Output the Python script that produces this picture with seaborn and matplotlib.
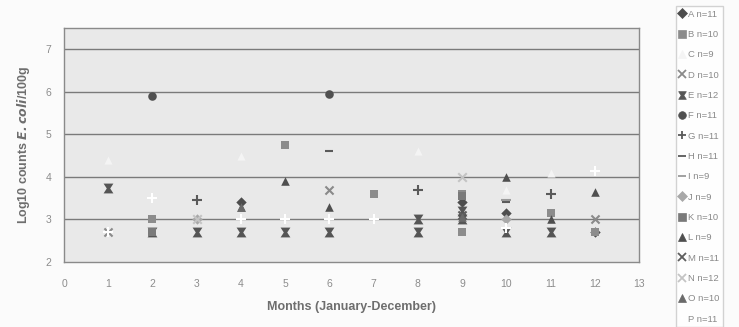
import numpy as np
import pandas as pd
import matplotlib
matplotlib.use("Agg")
import matplotlib.pyplot as plt
import seaborn as sns

# Monthly log10 E. coli counts per site (values at 2.7 / 3.0 are detection-level results)
A_month = [4, 9, 10, 12]
A_value = [3.4, 3.4, 3.15, 2.7]
B_month = [2, 5, 7, 9, 11, 12, 9]
B_value = [3.0, 4.75, 3.6, 3.6, 3.15, 2.7, 2.7]
C_month = [1, 4, 8, 11, 10]
C_value = [4.4, 4.5, 4.6, 4.1, 3.7]
D_month = [6, 12, 1]
D_value = [3.7, 3.0, 2.7]
E_month = [1, 2, 3, 4, 5, 6, 8, 8, 9, 9, 10, 11]
E_value = [3.75, 2.7, 2.7, 2.7, 2.7, 2.7, 2.7, 3.0, 3.2, 3.0, 2.7, 2.7]
F_month = [2, 6]
F_value = [5.9, 5.95]
G_month = [8, 11, 3]
G_value = [3.7, 3.6, 3.45]
H_month = [6, 10]
H_value = [4.6, 3.4]
I_month = [10]
I_value = [3.45]
J_month = [3, 10]
J_value = [3.0, 3.0]
K_month = [2, 9]
K_value = [2.7, 3.55]
L_month = [5, 6, 10, 12, 11, 4]
L_value = [3.9, 3.3, 4.0, 3.65, 3.0, 3.3]
M_month = [9]
M_value = [3.1]
N_month = [9, 3]
N_value = [4.0, 3.0]
O_month = [4, 9]
O_value = [3.3, 3.05]
P_month = [1, 2, 4, 5, 6, 7, 10, 12]
P_value = [2.7, 3.5, 3.0, 3.0, 3.0, 3.0, 2.8, 4.15]

site_labels = ["A n=11", "B n=10", "C n=9", "D n=10", "E n=12", "F n=11",
               "G n=11", "H n=11", "I n=9", "J n=9", "K n=10", "L n=9",
               "M n=11", "N n=12", "O n=10", "P n=11"]

months = [A_month, B_month, C_month, D_month, E_month, F_month, G_month, H_month,
          I_month, J_month, K_month, L_month, M_month, N_month, O_month, P_month]
values = [A_value, B_value, C_value, D_value, E_value, F_value, G_value, H_value,
          I_value, J_value, K_value, L_value, M_value, N_value, O_value, P_value]

frames = []
for lab, m, v in zip(site_labels, months, values):
    frames.append(pd.DataFrame({"month": m, "log10": v, "site": lab}))
df = pd.concat(frames, ignore_index=True)

# wide hourglass marker used for site E
hourglass = [(-1, 1), (1, 1), (0.35, 0), (1, -1), (-1, -1), (-0.35, 0), (-1, 1)]

styles = {
    "A n=11": dict(marker="D", color="#4d4d4d", s=28),
    "B n=10": dict(marker="s", color="#8c8c8c", s=36),
    "C n=9":  dict(marker="^", color="#f4f4f4", s=34),
    "D n=10": dict(marker="x", color="#8a8a8a", s=34),
    "E n=12": dict(marker=hourglass, color="#555555", s=50),
    "F n=11": dict(marker="o", color="#505050", s=38),
    "G n=11": dict(marker="+", color="#5a5a5a", s=44),
    "H n=11": dict(marker="_", color="#5a5a5a", s=34),
    "I n=9":  dict(marker="_", color="#9a9a9a", s=56),
    "J n=9":  dict(marker="D", color="#a8a8a8", s=28),
    "K n=10": dict(marker="s", color="#7a7a7a", s=36),
    "L n=9":  dict(marker="^", color="#4f4f4f", s=38),
    "M n=11": dict(marker="x", color="#5e5e5e", s=34),
    "N n=12": dict(marker="x", color="#c4c4c4", s=38),
    "O n=10": dict(marker="^", color="#6a6a6a", s=38),
    "P n=11": dict(marker="+", color="#ffffff", s=48),
}

sns.set_style("white")
plt.rcParams["font.family"] = ["Arial", "Liberation Sans", "DejaVu Sans"]

fig = plt.figure(figsize=(7.39, 3.27), dpi=100)
fig.patch.set_facecolor("#fbfbfb")
ax = fig.add_axes([64 / 739, 1 - 262 / 327, 575 / 739, 234 / 327])
ax.set_facecolor("#e9e9e9")

handles = []
for lab in site_labels:
    st = styles[lab]
    sub = df[df["site"] == lab]
    lw = 1.5 if st["marker"] in ("x", "+", "_") else 0
    sns.scatterplot(data=sub, x="month", y="log10", ax=ax, marker=st["marker"],
                    color=st["color"], s=st["s"], linewidth=lw,
                    edgecolor=st["color"], zorder=3, legend=False)
    handles.append(plt.Line2D([], [], linestyle="none", marker=st["marker"],
                              color=st["color"], markersize=5.5,
                              markeredgewidth=1.3 if lw else 0.5, label=lab))

ax.set_xlim(0, 13)
ax.set_ylim(2, 7.5)
ax.set_xticks(range(0, 14))
ax.set_yticks(range(2, 8))
for y in range(3, 8):
    ax.axhline(y, color="#7a7a7a", linewidth=1.0, zorder=1)
for sp in ax.spines.values():
    sp.set_color("#8a8a8a")
    sp.set_linewidth(1.0)
ax.tick_params(axis="both", colors="#999999", labelsize=7.5, length=3,
               labelcolor="#8c8c8c")
ax.tick_params(axis="x", pad=9)
ax.tick_params(axis="y", pad=6)

ax.set_xlabel("Months (January-December)", fontsize=9, fontweight="bold",
              color="#6e6e6e", labelpad=9)
ax.set_ylabel(r"Log10 counts $\mathbfit{E. coli}$/100g", fontsize=9,
              fontweight="bold", color="#6e6e6e", labelpad=10)

leg = fig.legend(handles=handles, loc="upper left",
                 bbox_to_anchor=(671 / 739, 0.995), frameon=True,
                 fontsize=6.8, handlelength=0.7, handletextpad=0.3,
                 labelspacing=1.2, borderpad=0.35, fancybox=False)
leg.get_frame().set_edgecolor("#c8c8c8")
leg.get_frame().set_facecolor("#ffffff")
for t in leg.get_texts():
    t.set_color("#8a8a8a")

fig.savefig("out.png", dpi=100, facecolor=fig.get_facecolor())
